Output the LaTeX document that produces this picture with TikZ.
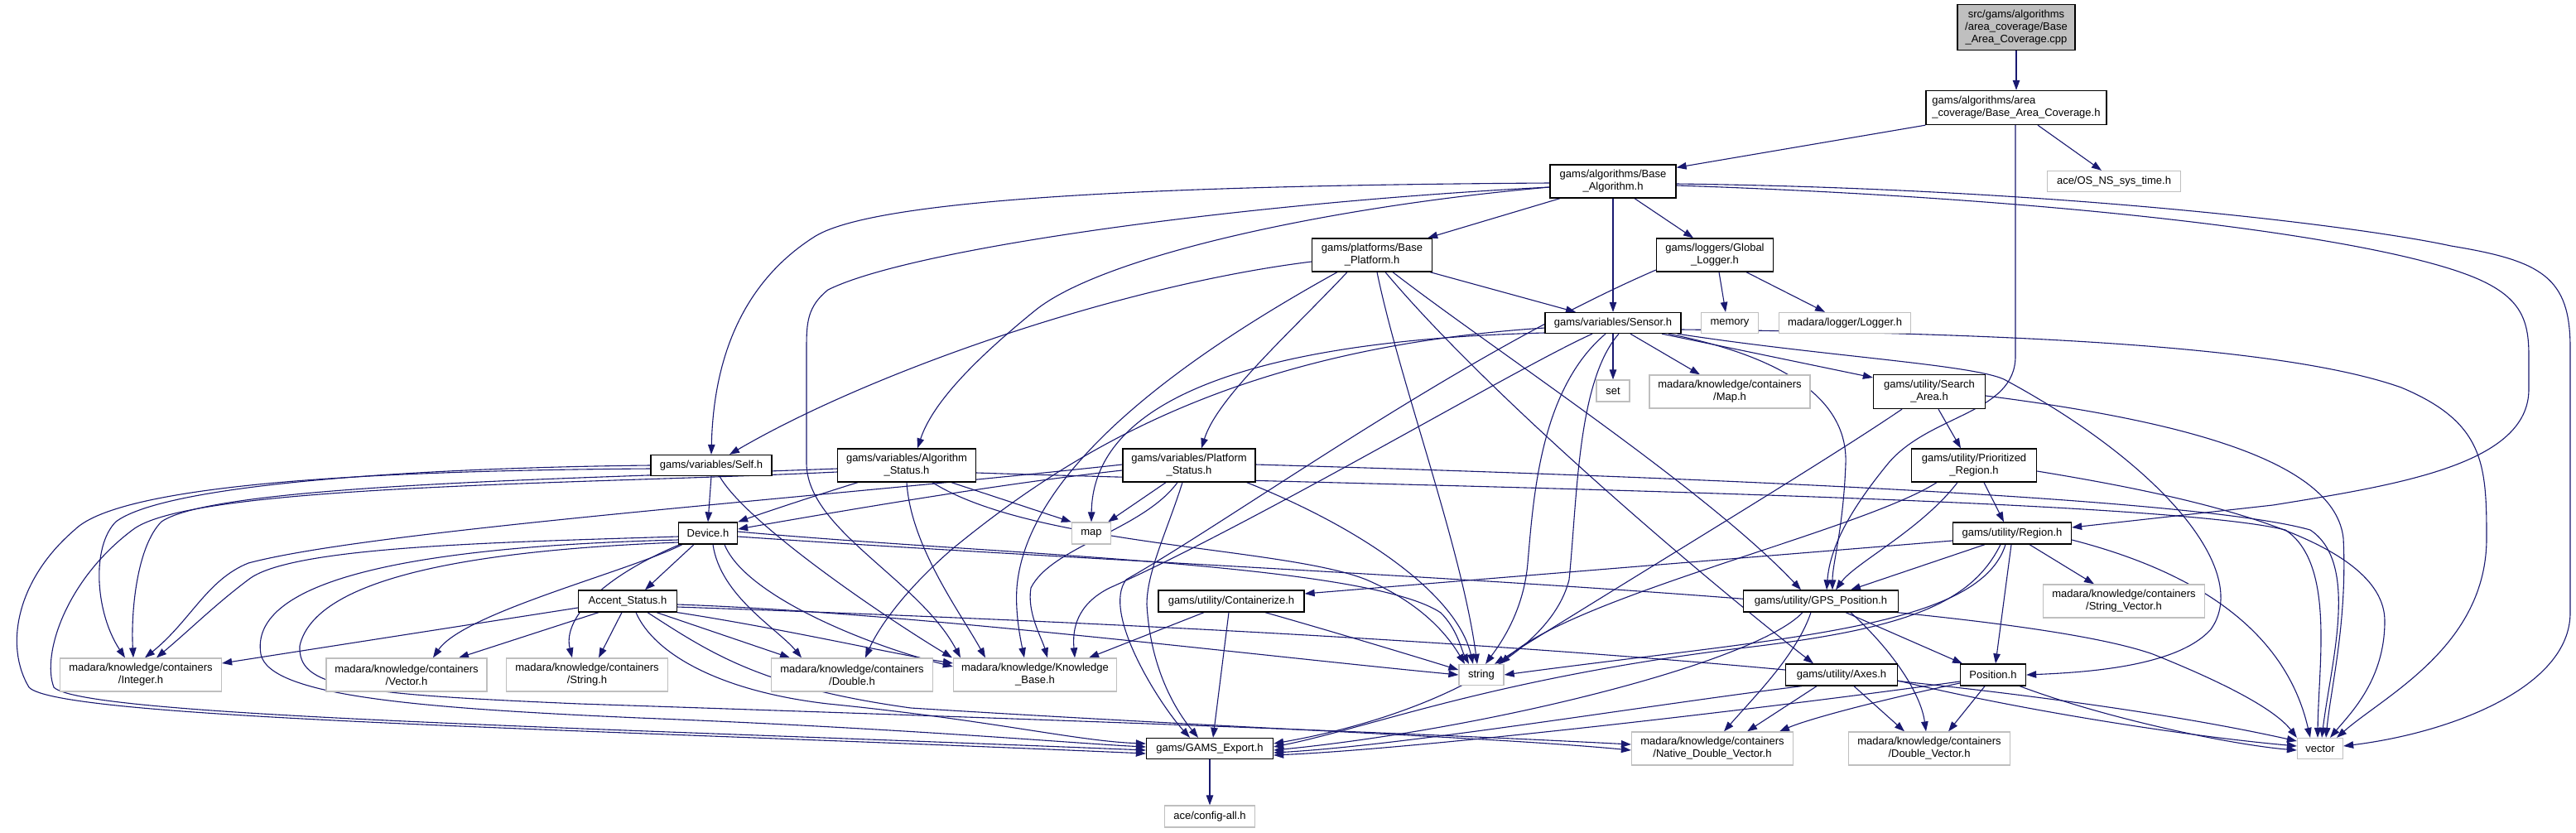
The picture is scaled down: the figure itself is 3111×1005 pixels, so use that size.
\documentclass[tikz,border=0pt]{standalone}
\usepackage{fontspec}
\setmainfont{Liberation Sans}
\usetikzlibrary{arrows.meta,calc}
\definecolor{edgecol}{HTML}{191970}
\definecolor{graybd}{HTML}{BFBFBF}
\definecolor{rootfill}{HTML}{BFBFBF}
\pgfdeclarelayer{bg}
\pgfsetlayers{bg,main}
\begin{document}
\begin{tikzpicture}[x=1pt,y=-1pt,
  base/.style={rectangle, inner sep=0pt, font=\fontsize{13}{15}\selectfont, align=center},
  nb/.style={base, draw=black, line width=1.3pt, fill=white},
  ng/.style={base, draw=graybd, line width=1.3pt, fill=white},
  e/.style={draw=edgecol, line width=1.1pt, -{Triangle[length=12pt,width=8.5pt]}},
  sz/.style 2 args={minimum width=#1pt, minimum height=#2pt}]
\useasboundingbox (0,0) rectangle (3111,1005);
% nodes
\node[nb, sz={142}{55}, fill=rootfill] (root) at (2435,33) {src/gams/algorithms\\/area\_coverage/Base\\\_Area\_Coverage.cpp};
\node[nb, sz={218}{41}, align=left] (bac) at (2435,130) {gams/algorithms/area\\\_coverage/Base\_Area\_Coverage.h};
\node[nb, sz={152}{40}] (ba) at (1948,219) {gams/algorithms/Base\\\_Algorithm.h};
\node[ng, sz={161}{25}] (os) at (2553,219) {ace/OS\_NS\_sys\_time.h};
\node[nb, sz={145}{40}] (bp) at (1657,308) {gams/platforms/Base\\\_Platform.h};
\node[nb, sz={141}{40}] (gl) at (2071,308) {gams/loggers/Global\\\_Logger.h};
\node[nb, sz={164}{25}] (sensor) at (1948,390) {gams/variables/Sensor.h};
\node[ng, sz={69}{25}] (memory) at (2089,390) {memory};
\node[ng, sz={159}{25}] (logger) at (2228,390) {madara/logger/Logger.h};
\node[ng, sz={40}{26}] (setn) at (1948,472) {set};
\node[ng, sz={194}{40}] (maph) at (2089,473) {madara/knowledge/containers\\/Map.h};
\node[nb, sz={135}{41}] (search) at (2330,473) {gams/utility/Search\\\_Area.h};
\node[nb, sz={151}{40}] (prio) at (2384,562) {gams/utility/Prioritized\\\_Region.h};
\node[nb, sz={143}{26}] (region) at (2430,644) {gams/utility/Region.h};
\node[nb, sz={187}{26}] (gps) at (2199,726) {gams/utility/GPS\_Position.h};
\node[ng, sz={195}{40}] (strvec) at (2565,726) {madara/knowledge/containers\\/String\_Vector.h};
\node[nb, sz={135}{26}] (axes) at (2224,815) {gams/utility/Axes.h};
\node[nb, sz={79}{26}] (position) at (2407,815) {Position.h};
\node[ng, sz={195}{40}] (dblvec) at (2330,904) {madara/knowledge/containers\\/Double\_Vector.h};
\node[ng, sz={55}{25}] (vectorn) at (2802,904) {vector};
\node[ng, sz={195}{40}] (ndv) at (2068,904) {madara/knowledge/containers\\/Native\_Double\_Vector.h};
\node[nb, sz={176}{26}] (containerize) at (1487,726) {gams/utility/Containerize.h};
\node[ng, sz={197}{40}] (kb) at (1250,815) {madara/knowledge/Knowledge\\\_Base.h};
\node[ng, sz={54}{25}] (stringn) at (1789,815) {string};
\node[nb, sz={153}{25}] (export) at (1461,904) {gams/GAMS\_Export.h};
\node[ng, sz={109}{26}] (config) at (1461,986) {ace/config-all.h};
\node[nb, sz={119}{26}] (accent) at (758,726) {Accent\_Status.h};
\node[ng, sz={195}{40}] (integer) at (170,815) {madara/knowledge/containers\\/Integer.h};
\node[ng, sz={194}{40}] (vec) at (491,815) {madara/knowledge/containers\\/Vector.h};
\node[ng, sz={195}{40}] (str) at (709,815) {madara/knowledge/containers\\/String.h};
\node[ng, sz={195}{40}] (dbl) at (1029,815) {madara/knowledge/containers\\/Double.h};
\node[nb, sz={146}{25}] (self) at (859,562) {gams/variables/Self.h};
\node[nb, sz={167}{40}] (algstat) at (1095,562) {gams/variables/Algorithm\\\_Status.h};
\node[nb, sz={160}{40}] (platstat) at (1436,562) {gams/variables/Platform\\\_Status.h};
\node[nb, sz={71}{26}] (device) at (855,644) {Device.h};
\node[ng, sz={47}{26}] (mapn) at (1318,644) {map};

\begin{pgfonlayer}{bg}
\fill[white] (0,0) rectangle (3111,1005);
% root / bac
\draw[e] (root.south) -- (bac.north);
\draw[e] (bac.south west) -- ($(ba.north east)+(0,4)$);
\draw[e] ($(bac.south)+(26,0)$) -- ($(os.north)+(-15,0)$);
\draw[e] ($(bac.south)+(-1,0)$) -- (2434,430) .. controls (2434,500) and (2330,500) .. (2280,560) .. controls (2235,615) and (2210,660) .. ($(gps.north)+(7,0)$);
% ba
\draw[e] ($(ba.south)+(-64,0)$) -- ($(bp.north east)+(-6,0)$);
\draw[e] ($(ba.south)+(26,0)$) -- ($(gl.north)+(-26,0)$);
\draw[e] (ba.south) -- (sensor.north);
\draw[e] ($(ba.west)+(0,2)$) .. controls (1400,224) and (1060,240) .. (985,285) .. controls (905,335) and (862,420) .. (self.north);
\draw[e] ($(ba.west)+(0,7)$) .. controls (1500,245) and (1100,300) .. (1000,350) .. controls (975,370) and (974,390) .. (974,420) -- (974,560) .. controls (975,640) and (1110,700) .. ($(kb.north)+(-90,0)$);
\draw[e] ($(ba.west)+(0,7)$) .. controls (1600,250) and (1330,310) .. (1250,375) .. controls (1170,440) and (1125,490) .. ($(algstat.north)+(13,0)$);
\draw[e] ($(ba.east)+(0,5)$) .. controls (2500,240) and (2850,285) .. (2975,330) .. controls (3045,355) and (3054,385) .. (3054,430) -- (3054,470) .. controls (3054,560) and (2900,585) .. (2745,610) -- ($(region.east)+(0,-7)$);
\draw[e] ($(ba.east)+(0,3)$) .. controls (2500,228) and (2860,275) .. (2960,297) .. controls (3070,315) and (3104,335) .. (3104,420) -- (3104,740) .. controls (3104,830) and (2960,885) .. ($(vectorn.east)+(0,-3)$);
% bp
\draw[e] ($(bp.south east)+(-3,0)$) -- ($(sensor.north)+(-45,0)$);
\draw[e] ($(bp.west)+(0,8)$) .. controls (1350,345) and (1050,450) .. ($(self.north)+(22,0)$);
\draw[e] ($(bp.south)+(-30,0)$) .. controls (1560,400) and (1470,480) .. ($(platstat.north)+(15,0)$);
\draw[e] ($(bp.south)+(6,0)$) .. controls (1690,460) and (1765,660) .. ($(stringn.north)+(-5,0)$);
\draw[e] ($(bp.south)+(16,0)$) .. controls (1800,480) and (2060,700) .. ($(axes.north)+(-34,0)$);
\draw[e] ($(bp.south)+(25,0)$) .. controls (1800,420) and (2060,590) .. ($(gps.north)+(-24,0)$);
\draw[e] ($(bp.south)+(-42,0)$) .. controls (1450,420) and (1240,560) .. (1228,710) .. controls (1226,740) and (1232,770) .. ($(kb.north)+(-13,0)$);
% gl
\draw[e] ($(gl.south)+(5,0)$) -- ($(memory.north)+(-5,0)$);
\draw[e] ($(gl.south)+(38,0)$) -- ($(logger.north)+(-24,0)$);
\draw[e] ($(gl.west)+(0,18)$) .. controls (1760,430) and (1500,620) .. (1360,700) .. controls (1330,740) and (1400,850) .. ($(export.north)+(-24,0)$);
% sensor
\draw[e] (sensor.south) -- (setn.north);
\draw[e] ($(sensor.south)+(21,0)$) -- ($(maph.north)+(-36,0)$);
\draw[e] ($(sensor.south)+(59,0)$) -- ($(search.west)+(0,-17)$);
\draw[e] ($(sensor.south)+(67,0)$) .. controls (2150,430) and (2232,480) .. (2229,560) .. controls (2226,640) and (2213,680) .. ($(gps.north)+(14,0)$);
\draw[e] ($(sensor.south east)+(-5,0)$) .. controls (2200,430) and (2380,440) .. (2420,458) .. controls (2610,560) and (2720,690) .. (2670,760) .. controls (2630,805) and (2520,812) .. (position.east);
\draw[e] ($(sensor.east)+(0,8)$) .. controls (2400,402) and (2750,415) .. (2900,468) .. controls (3000,510) and (3003,560) .. (3003,650) .. controls (3003,780) and (2880,840) .. ($(vectorn.north)+(20,0)$);
\draw[e] ($(sensor.west)+(0,12)$) .. controls (1550,410) and (1320,470) .. (mapn.north);
\draw[e] ($(sensor.west)+(0,6)$) .. controls (1500,420) and (1300,540) .. (1150,663) .. controls (1090,715) and (1060,760) .. ($(dbl.north)+(16,0)$);
\draw[e] ($(sensor.south)+(-25,0)$) .. controls (1830,445) and (1520,630) .. (1340,710) .. controls (1300,730) and (1295,760) .. ($(kb.north)+(48,0)$);
\draw[e] ($(sensor.south)+(-9,0)$) .. controls (1860,470) and (1852,600) .. (1845,680) .. controls (1840,740) and (1810,780) .. ($(stringn.north)+(5,0)$);
\draw[e] ($(sensor.south)+(7,0)$) .. controls (1905,460) and (1905,600) .. (1895,700) .. controls (1870,800) and (1700,870) .. ($(export.east)+(0,-6)$);
% search / prio
\draw[e] ($(search.south)+(11,0)$) -- ($(prio.north)+(-16,0)$);
\draw[e] ($(search.south)+(-33,0)$) .. controls (2200,560) and (2000,680) .. ($(stringn.north)+(16,0)$);
\draw[e] ($(search.east)+(0,5)$) .. controls (2650,510) and (2820,560) .. (2830,650) .. controls (2835,750) and (2815,830) .. ($(vectorn.north)+(7,0)$);
\draw[e] ($(prio.south)+(12,0)$) -- ($(region.north)+(-10,0)$);
\draw[e] ($(prio.south)+(-20,0)$) .. controls (2320,640) and (2240,680) .. ($(gps.north)+(18,0)$);
\draw[e] ($(prio.south)+(-45,0)$) .. controls (2250,640) and (1900,720) .. ($(stringn.north)+(23,0)$);
\draw[e] ($(prio.east)+(0,7)$) .. controls (2650,600) and (2880,650) .. (2880,750) .. controls (2880,820) and (2840,860) .. ($(vectorn.north)+(12,0)$);
% region
\draw[e] ($(region.west)+(0,9)$) -- ($(containerize.east)+(0,-9)$);
\draw[e] ($(region.south)+(-33,0)$) -- ($(gps.north)+(36,0)$);
\draw[e] ($(region.south)+(-14,0)$) .. controls (2380,730) and (2300,760) .. (2100,783) .. controls (1800,820) and (1650,880) .. ($(export.east)+(0,-2)$);
\draw[e] ($(region.south)+(-8,0)$) .. controls (2390,760) and (2150,770) .. (stringn.east);
\draw[e] ($(region.south)+(-1,0)$) -- ($(position.north)+(3,0)$);
\draw[e] ($(region.south)+(21,0)$) -- ($(strvec.north)+(-36,0)$);
\draw[e] ($(region.east)+(0,8)$) .. controls (2650,690) and (2760,760) .. ($(vectorn.north)+(-12,0)$);
% gps
\draw[e] ($(gps.south)+(30,0)$) -- ($(position.north)+(-37,0)$);
\draw[e] ($(gps.south)+(36,0)$) .. controls (2290,790) and (2320,840) .. ($(dblvec.north)+(-4,0)$);
\draw[e] ($(gps.south)+(-22,0)$) .. controls (2120,800) and (1800,880) .. ($(export.east)+(0,2)$);
\draw[e] ($(gps.south)+(-12,0)$) .. controls (2170,790) and (2120,840) .. ($(ndv.north)+(14,0)$);
% axes
\draw[e] ($(axes.south west)+(20,0)$) .. controls (2000,850) and (1700,900) .. ($(export.east)+(0,5)$);
\draw[e] ($(axes.south)+(-30,0)$) -- ($(ndv.north)+(42,0)$);
\draw[e] ($(axes.south)+(15,0)$) -- ($(dblvec.north)+(-30,0)$);
\draw[e] ($(axes.east)+(0,7)$) .. controls (2450,860) and (2650,890) .. ($(vectorn.west)+(0,-3)$);
% position
\draw[e] ($(position.west)+(0,8)$) .. controls (2100,860) and (1700,905) .. ($(export.east)+(0,8)$);
\draw[e] ($(position.west)+(0,10)$) .. controls (2250,850) and (2180,870) .. ($(ndv.north)+(81,0)$);
\draw[e] ($(position.south)+(-10,0)$) -- ($(dblvec.north)+(23,0)$);
\draw[e] ($(position.south east)+(-8,0)$) .. controls (2550,870) and (2700,900) .. ($(vectorn.west)+(0,2)$);
% containerize
\draw[e] ($(containerize.south)+(-33,0)$) -- ($(kb.north)+(65,0)$);
\draw[e] ($(containerize.south)+(41,0)$) .. controls (1600,760) and (1700,790) .. ($(stringn.west)+(0,-6)$);
\draw[e] ($(containerize.south)+(-3,0)$) -- ($(export.north)+(4,0)$);
\draw[e] (export.south) -- (config.north);
% self
\draw[e] (self.south) -- (device.north);
\draw[e] ($(self.south)+(10,0)$) .. controls (900,630) and (1060,740) .. ($(kb.north)+(-100,0)$);
\draw[e] (self.west) .. controls (500,565) and (200,585) .. (140,630) .. controls (110,660) and (115,740) .. ($(integer.north)+(-19,0)$);
\draw[e] ($(self.west)+(0,4)$) .. controls (500,568) and (150,580) .. (90,640) .. controls (20,700) and (5,780) .. (35,830) .. controls (70,868) and (700,880) .. ($(export.west)+(0,6)$);
% algstat
\draw[e] ($(algstat.south west)+(25,0)$) .. controls (980,600) and (920,620) .. (device.north east);
\draw[e] (algstat.south) .. controls (1100,660) and (1160,740) .. ($(kb.north)+(-60,0)$);
\draw[e] ($(algstat.west)+(0,4)$) .. controls (700,578) and (260,585) .. (195,630) .. controls (165,660) and (158,740) .. ($(integer.north)+(-9,0)$);
\draw[e] ($(algstat.west)+(0,8)$) .. controls (700,585) and (230,585) .. (160,640) .. controls (80,700) and (50,790) .. (65,830) .. controls (100,865) and (700,878) .. ($(export.west)+(0,2)$);
\draw[e] ($(algstat.south)+(31,0)$) .. controls (1250,660) and (1550,660) .. (1650,700) .. controls (1720,730) and (1750,770) .. ($(stringn.north)+(-20,0)$);
\draw[e] ($(algstat.south)+(54,0)$) -- (mapn.north west);
\draw[e] ($(algstat.east)+(0,9)$) .. controls (1600,585) and (2600,600) .. (2760,640) .. controls (2820,680) and (2800,800) .. ($(vectorn.north)+(-3,0)$);
% platstat
\draw[e] ($(platstat.west)+(0,6)$) .. controls (1200,585) and (1000,620) .. ($(device.east)+(0,-5)$);
\draw[e] ($(platstat.west)+(0,-1)$) .. controls (1000,600) and (450,640) .. (300,680) .. controls (250,700) and (230,750) .. ($(integer.north)+(5,0)$);
\draw[e] ($(platstat.south)+(-28,0)$) -- ($(mapn.north east)+(-4,0)$);
\draw[e] ($(platstat.south)+(-14,0)$) .. controls (1380,640) and (1270,660) .. (1245,710) .. controls (1240,740) and (1258,770) .. ($(kb.north)+(15,0)$);
\draw[e] ($(platstat.south)+(-8,0)$) .. controls (1410,640) and (1385,690) .. (1385,730) .. controls (1390,820) and (1430,870) .. ($(export.north)+(-14,0)$);
\draw[e] ($(platstat.south east)+(-11,0)$) .. controls (1650,640) and (1760,720) .. ($(stringn.north)+(-10,0)$);
\draw[e] ($(platstat.east)+(0,-1)$) .. controls (2000,575) and (2650,600) .. (2790,640) .. controls (2850,680) and (2815,800) .. ($(vectorn.north)+(2,0)$);
% device
\draw[e] ($(device.south)+(-17,0)$) -- ($(accent.north)+(21,0)$);
\draw[e] ($(device.south west)+(5,0)$) .. controls (760,690) and (560,740) .. ($(vec.north)+(32,0)$);
\draw[e] ($(device.south west)+(2,0)$) .. controls (720,700) and (680,750) .. ($(str.north)+(-18,0)$);
\draw[e] ($(device.south)+(6,0)$) .. controls (870,720) and (940,760) .. ($(dbl.north)+(-61,0)$);
\draw[e] ($(device.south)+(20,0)$) .. controls (900,720) and (1050,780) .. ($(kb.west)+(0,-10)$);
\draw[e] ($(device.west)+(0,4)$) .. controls (600,655) and (350,660) .. (300,700) .. controls (260,730) and (230,760) .. ($(integer.north)+(19,0)$);
\draw[e] ($(device.west)+(0,8)$) .. controls (500,660) and (300,700) .. (315,790) .. controls (325,840) and (500,855) .. (772,867) .. controls (1100,880) and (1300,898) .. ($(export.west)+(0,-2)$);
\draw[e] ($(device.west)+(0,11)$) .. controls (560,665) and (380,700) .. (362,780) .. controls (360,830) and (420,838) .. (700,850) .. controls (1300,870) and (1700,885) .. ($(ndv.west)+(0,-5)$);
\draw[e] ($(device.east)+(0,-2)$) .. controls (1200,670) and (1650,680) .. (1740,740) .. controls (1760,760) and (1765,785) .. ($(stringn.north)+(-15,0)$);
\draw[e] ($(device.east)+(0,4)$) .. controls (1500,690) and (2400,720) .. (2600,790) .. controls (2700,830) and (2750,860) .. (vectorn.north west);
% accent
\draw[e] ($(accent.west)+(0,8)$) -- ($(integer.east)+(0,-14)$);
\draw[e] ($(accent.south west)+(25,0)$) -- ($(vec.north)+(63,0)$);
\draw[e] ($(accent.south)+(-7,0)$) -- ($(str.north)+(14,0)$);
\draw[e] ($(accent.south)+(35,0)$) -- ($(dbl.north)+(-75,0)$);
\draw[e] (accent.south east) .. controls (950,760) and (1080,790) .. ($(kb.west)+(0,-14)$);
\draw[e] ($(accent.east)+(0,4)$) .. controls (1100,740) and (1500,790) .. (stringn.west);
\draw[e] ($(accent.east)+(0,7)$) .. controls (1300,750) and (2300,790) .. ($(vectorn.west)+(0,-9)$);
\draw[e] ($(accent.south)+(10,0)$) .. controls (790,790) and (870,835) .. (1000,850) .. controls (1200,870) and (1300,895) .. ($(export.west)+(0,-6)$);
\draw[e] ($(accent.south)+(24,0)$) .. controls (860,790) and (920,830) .. (1100,855) .. controls (1500,880) and (1800,890) .. ($(ndv.west)+(0,2)$);
\end{pgfonlayer}
\end{tikzpicture}
\end{document}
